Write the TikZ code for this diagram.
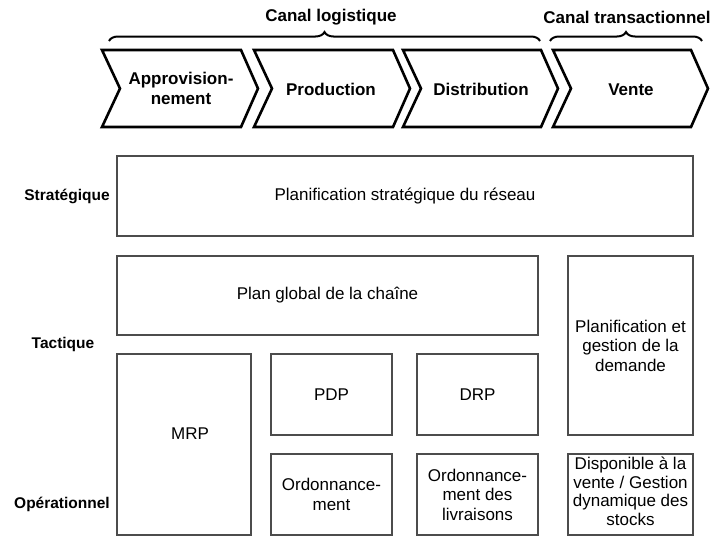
\documentclass[tikz,border=0pt]{standalone}
\usepackage{fontspec}
\setmainfont{Liberation Sans}
\usetikzlibrary{decorations.pathreplacing}

\tikzset{
  chevron/.style={draw=black, line width=2.6pt, line join=miter},
  bloc/.style={draw=black!70, line width=1.3pt},
  etiq/.style={font=\fontsize{17}{20}\selectfont\bfseries, align=center},
  niveau/.style={font=\fontsize{15.5}{19}\selectfont\bfseries},
  texte/.style={font=\fontsize{17}{19.5}\selectfont, align=center},
  accolade/.style={decorate, decoration={brace, amplitude=9pt}, line width=2pt},
}

\begin{document}
\begin{tikzpicture}[x=1pt, y=-1pt]
    \useasboundingbox (0,0) rectangle (710,536);

    % Canaux
    \draw[accolade] (109,41) -- (540,41);
    \draw[accolade] (550,41) -- (702,41);
    \node[etiq] (logi) at (331,17) {Canal logistique};
    \node[etiq] (trans) at (627,17) {Canal transactionnel};

    % Chaine
    \draw[chevron] (102,50) -- (241,50) -- (258,88.5) -- (241,127) -- (102,127) -- (120,88.5) -- cycle;
    \draw[chevron] (254,50) -- (393,50) -- (410,88.5) -- (393,127) -- (254,127) -- (272,88.5) -- cycle;
    \draw[chevron] (403,50) -- (541,50) -- (558,88.5) -- (541,127) -- (403,127) -- (421,88.5) -- cycle;
    \draw[chevron] (553,50) -- (691,50) -- (708,88.5) -- (691,127) -- (553,127) -- (571,88.5) -- cycle;
    \node[etiq] (appro) at (181,88.5) {Approvision-\\nement};
    \node[etiq] (prod) at (331,89) {Production};
    \node[etiq] (distrib) at (481,89) {Distribution};
    \node[etiq] (vente) at (631,90) {Vente};

    % Niveaux
    \node[niveau] (lstrat) at (67,196) {Stratégique};
    \node[niveau] (ltact) at (63,344) {Tactique};
    \node[niveau] (lop) at (62,504) {Opérationnel};

    % Blocs
    \draw[bloc] (117,156) rectangle (693,236) node[midway, texte] (strat) {Planification stratégique du réseau};
    \draw[bloc] (117,256) rectangle (538,335) node[midway, texte] (plan) {Plan global de la chaîne};
    \draw[bloc] (568,256) rectangle (693,435) node[midway, texte] (demande) {Planification et\\gestion de la\\demande};
    \draw[bloc] (117,354) rectangle (251,535);
    \node[texte] (mrp) at (190,434) {MRP};
    \draw[bloc] (271,354) rectangle (392,435) node[midway, texte] (pdp) {PDP};
    \draw[bloc] (417,354) rectangle (538,435) node[midway, texte] (drp) {DRP};
    \draw[bloc] (271,454) rectangle (392,535) node[midway, texte] (ordo) {Ordonnance-\\ment};
    \draw[bloc] (417,454) rectangle (538,535) node[midway, texte] (ordoliv) {Ordonnance-\\ment des\\livraisons};
    \draw[bloc] (568,454) rectangle (693,535) node[midway, texte, font=\fontsize{17}{18.5}\selectfont, yshift=3] (dispo) {Disponible à la\\vente / Gestion\\dynamique des\\stocks};
\end{tikzpicture}
\end{document}
